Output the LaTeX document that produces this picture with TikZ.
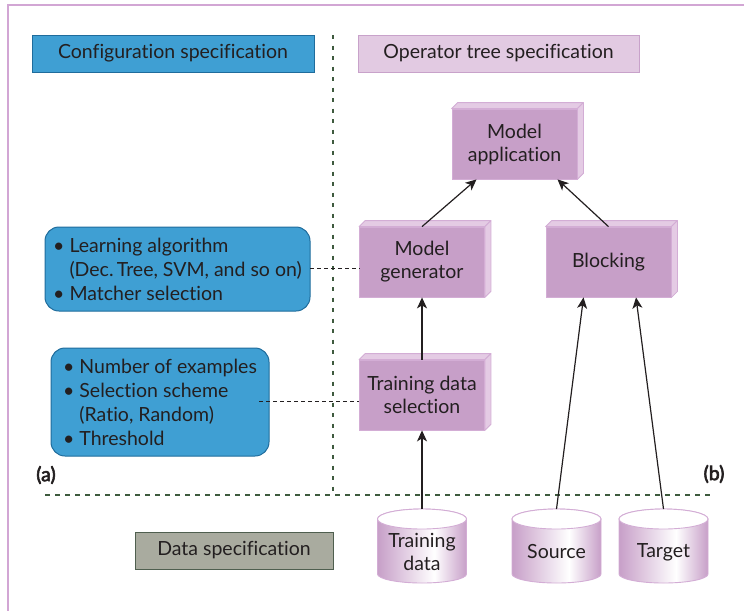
\documentclass[tikz,border=0pt]{standalone}
\usepackage{fontspec}
\setmainfont{Lato}[Ligatures=NoCommon]
\newfontfamily\tagfont{Lato}[FakeBold=3]
\usetikzlibrary{arrows.meta}

\definecolor{ink}{HTML}{231F20}
\definecolor{cfgblue}{HTML}{3F9FD3}
\definecolor{cfgedge}{HTML}{1F6C9C}
\definecolor{opfill}{HTML}{C79FC8}
\definecolor{opface}{HTML}{E4CBE4}
\definecolor{opedge}{HTML}{D3ADD5}
\definecolor{hdrfill}{HTML}{E2CAE2}
\definecolor{hdredge}{HTML}{C8A2CA}
\definecolor{framec}{HTML}{D2A6D4}
\definecolor{sepgreen}{HTML}{3E5A3E}
\definecolor{datafill}{HTML}{A9AB9F}
\definecolor{dataedge}{HTML}{4F5F4F}

% cylinder body: purple at the rims, bright just right of the middle
\pgfdeclarehorizontalshading{cylshade}{100bp}{color(0bp)=(opfill); color(25bp)=(opfill); color(57bp)=(white); color(75bp)=(opfill); color(100bp)=(opfill)}

\tikzset{
  txt/.style={text=ink, font=\fontsize{19.5}{23}\selectfont},
  header/.style={txt, draw, line width=1pt, minimum height=37, inner sep=0},
  cfgbox/.style={txt, fill=cfgblue, draw=cfgedge, line width=1pt, rounded corners=14, align=left, inner sep=0,
    font=\fontsize{19.5}{24}\selectfont},
  opnode/.style={txt, fill=opfill, draw=opedge, line width=0.8pt, minimum width=125, minimum height=70,
    inner sep=0, align=center},
  cyltext/.style={txt, align=center, inner sep=0, font=\fontsize{19.5}{23}\selectfont},
  flow/.style={draw=ink, line width=1.2pt, -{Stealth[length=11pt,width=10pt,inset=3pt]}},
  link/.style={draw=ink, line width=0.8pt, dash pattern=on 4pt off 3pt},
  sep/.style={draw=sepgreen, line width=2.5pt},
  tag/.style={text=ink, font=\tagfont\fontsize{19.5}{22}\selectfont, inner sep=0},
}

% operator box: front face as a node, plus top and right faces for depth
\newcommand\opbox[4]{%
  \node[opnode] (#1) at (#2,-#3) {#4};
  \filldraw[fill=opface, draw=opedge, line width=0.8pt, line join=round]
    (#1.north west) -- ++(6,6) -- ([shift={(6,6)}]#1.north east) -- (#1.north east) -- cycle;
  \filldraw[fill=opface, draw=opedge, line width=0.8pt, line join=round]
    (#1.north east) -- ++(6,6) -- ([shift={(6,6)}]#1.south east) -- (#1.south east) -- cycle;
}

% data store: shaded cylinder with a white lid
\newcommand\dbcyl[3]{%
  \path[shading=cylshade, draw=opedge, line width=0.9pt]
    (#2-44.5,-519) -- (#2-44.5,-574)
    arc[start angle=180, end angle=360, x radius=44.5, y radius=9]
    -- (#2+44.5,-519)
    arc[start angle=0, end angle=180, x radius=44.5, y radius=10] -- cycle;
  \draw[fill=white, draw=opedge, line width=0.9pt] (#2,-519) ellipse[x radius=44.5, y radius=10];
  \coordinate (#1-top) at (#2,-509);
  \node[cyltext] (#1) at (#2,-552) {#3};
}

\begin{document}
\begin{tikzpicture}[x=1pt, y=1pt]
\useasboundingbox (0,0) rectangle (744,-611);

% page frame (top and left edges)
\draw[framec, line width=1.5pt] (744,-5) -- (8,-5) -- (8,-611);

% section separators
\coordinate (sepT) at (333,-35);
\coordinate (sepC) at (333,-495);
\coordinate (sepL) at (45,-495);
\coordinate (sepR) at (713,-495);
\draw[sep, dash pattern=on 4pt off 6.5pt] (sepT) -- (sepC);
\draw[sep, dash pattern=on 5pt off 5pt] (sepL) -- (sepR);

% section headers
\node[header, fill=cfgblue, draw=cfgedge, minimum width=282] (cfghdr) at (173,-53.5) {Configuration specification};
\node[header, fill=hdrfill, draw=hdredge, minimum width=281] (ophdr) at (498.5,-53.5) {Operator tree specification};
\node[header, fill=datafill, draw=dataedge, minimum width=198] (datahdr) at (234,-550.5) {Data specification};

\node[tag] (taga) at (46,-475) {(a)};
\node[tag] (tagb) at (714,-474) {(b)};

% configuration boxes
\node[cfgbox, minimum width=265, minimum height=84] (learn) at (177.5,-269)
  {\textbullet\ Learning algorithm\\\phantom{\textbullet\ }(Dec.\,Tree, SVM, and so on)\\\textbullet\ Matcher selection};
\node[cfgbox, minimum width=218, minimum height=108] (tsel) at (160,-402)
  {\textbullet\ Number of examples\\\textbullet\ Selection scheme\\\phantom{\textbullet\ }(Ratio, Random)\\\textbullet\ Threshold};

% operator tree
\opbox{mapp}{514.5}{144}{Model\\application}
\opbox{mgen}{422}{262}{Model\\generator}
\opbox{block}{608.5}{262}{Blocking}
\opbox{tds}{422}{395}{Training data\\selection}

% data stores
\dbcyl{tdata}{422}{Training\\data}
\dbcyl{src}{556.5}{Source}
\dbcyl{tgt}{663.5}{Target}

% data flow
\draw[flow] (mgen.north) -- ([xshift=-38pt]mapp.south);
\draw[flow] (block.north) -- ([xshift=43pt]mapp.south);
\draw[flow] (tds.north) -- (mgen.south);
\draw[flow] (tdata-top) -- (tds.south);
\draw[flow] (src-top) -- ([xshift=-25pt]block.south);
\draw[flow] (tgt-top) -- ([xshift=27.5pt]block.south);

% configuration links
\coordinate (learnR) at (310,-268);
\coordinate (tselR) at (259,-401);
\draw[link] (learnR) -- (learnR -| mgen.west);
\draw[link] (tselR) -- (tselR -| tds.west);
\end{tikzpicture}
\end{document}
